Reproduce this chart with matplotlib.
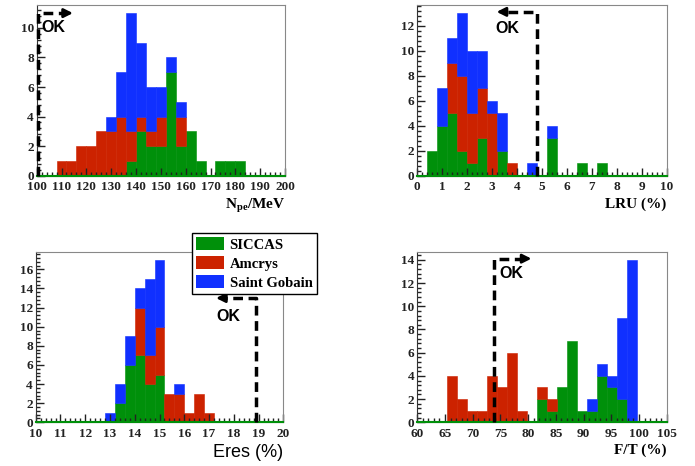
import numpy as np
import matplotlib
matplotlib.use('Agg')
import matplotlib.pyplot as plt
from matplotlib.patches import Patch
from matplotlib.ticker import MultipleLocator, AutoMinorLocator

# stacked histograms: SICCAS (bottom), Amcrys, Saint Gobain (top)
npe_edges = np.linspace(100, 200, 26)
npe_siccas = [0, 0, 0, 0, 0, 0, 0, 0, 0, 1, 3, 2, 2, 7, 2, 3, 1, 0, 1, 1, 1, 0, 0, 0, 0]
npe_amcrys = [0, 0, 1, 1, 2, 2, 3, 3, 4, 2, 1, 1, 2, 0, 2, 0, 0, 0, 0, 0, 0, 0, 0, 0, 0]
npe_gobain = [0, 0, 0, 0, 0, 0, 0, 1, 3, 8, 5, 3, 2, 1, 1, 0, 0, 0, 0, 0, 0, 0, 0, 0, 0]

lru_edges = np.linspace(0, 10, 26)
lru_siccas = [0, 2, 4, 5, 2, 1, 3, 0, 2, 0, 0, 0, 0, 3, 0, 0, 1, 0, 1, 0, 0, 0, 0, 0, 0]
lru_amcrys = [0, 0, 0, 4, 6, 4, 4, 5, 0, 1, 0, 0, 0, 0, 0, 0, 0, 0, 0, 0, 0, 0, 0, 0, 0]
lru_gobain = [0, 0, 3, 2, 5, 5, 3, 1, 3, 0, 0, 1, 0, 1, 0, 0, 0, 0, 0, 0, 0, 0, 0, 0, 0]

eres_edges = np.linspace(10, 20, 26)
eres_siccas = [0, 0, 0, 0, 0, 0, 0, 0, 2, 6, 7, 4, 5, 0, 0, 0, 0, 0, 0, 0, 0, 0, 0, 0, 0]
eres_amcrys = [0, 0, 0, 0, 0, 0, 0, 0, 0, 0, 5, 3, 5, 3, 3, 1, 3, 1, 0, 0, 0, 0, 0, 0, 0]
eres_gobain = [0, 0, 0, 0, 0, 0, 0, 1, 2, 3, 2, 8, 7, 0, 1, 0, 0, 0, 0, 0, 0, 0, 0, 0, 0]

ft_edges = np.linspace(60, 105, 26)
ft_siccas = [0, 0, 0, 0, 0, 0, 0, 0, 0, 0, 0, 0, 2, 1, 3, 7, 1, 1, 4, 3, 2, 0, 0, 0, 0]
ft_amcrys = [0, 0, 0, 4, 2, 1, 1, 4, 3, 6, 1, 0, 1, 1, 0, 0, 0, 0, 0, 0, 0, 0, 0, 0, 0]
ft_gobain = [0, 0, 0, 0, 0, 0, 0, 0, 0, 0, 0, 0, 0, 0, 0, 0, 0, 1, 1, 1, 7, 14, 0, 0, 0]

names = ['SICCAS', 'Amcrys', 'Saint Gobain']
colors = ['#00900a', '#cc2200', '#1030ff']

serif = 'Liberation Serif'
sans = 'Liberation Sans'
plt.rcParams['mathtext.fontset'] = 'custom'
plt.rcParams['mathtext.rm'] = 'Liberation Serif:bold'
plt.rcParams['mathtext.bf'] = 'Liberation Serif:bold'
plt.rcParams['mathtext.it'] = 'Liberation Serif:bold'

fig = plt.figure(figsize=(6.95, 4.66), dpi=100)


def panel(rect, edges, series, ymax, xmajor, xlabel, label_font, label_size):
    ax = fig.add_axes(rect)
    left = edges[:-1]
    width = np.diff(edges)
    bottom = np.zeros(len(left))
    for vals, c in zip(series, colors):
        vals = np.array(vals, dtype=float)
        m = vals > 0
        ax.bar(left[m], vals[m], width=width[m], bottom=bottom[m],
               align='edge', color=c, edgecolor=c, linewidth=0.4)
        bottom = bottom + vals
    ax.plot([edges[0], edges[-1]], [0, 0], color=colors[0], lw=1.5,
            clip_on=False, zorder=3)
    ax.set_xlim(edges[0], edges[-1])
    ax.set_ylim(0, ymax * 1.05)
    ax.xaxis.set_major_locator(MultipleLocator(xmajor))
    ax.xaxis.set_minor_locator(AutoMinorLocator(5))
    ax.yaxis.set_major_locator(MultipleLocator(2))
    ax.yaxis.set_minor_locator(AutoMinorLocator(5))
    ax.tick_params(which='both', direction='in', top=False, right=False,
                   labelsize=9.5, colors='#222222')
    ax.tick_params(axis='x', pad=4)
    ax.tick_params(axis='y', pad=2)
    ax.tick_params(which='major', length=6, width=1)
    ax.tick_params(which='minor', length=3, width=1)
    for lab in ax.get_xticklabels() + ax.get_yticklabels():
        lab.set_fontfamily(serif)
        lab.set_fontweight('bold')
    for s in ['top', 'right']:
        ax.spines[s].set_color('#888888')
    for s in ['left', 'bottom']:
        ax.spines[s].set_color('#333333')
    ax.set_xlabel(xlabel, fontfamily=label_font, fontsize=label_size,
                  fontweight='bold' if label_font == serif else 'normal',
                  loc='right', labelpad=3)
    return ax


def ok_arrow(ax, x, ytop, xend, tx, ty):
    direction = 1 if xend > x else -1
    head = 0.04 * (ax.get_xlim()[1] - ax.get_xlim()[0])
    ax.plot([x, x, xend - direction * head * 0.6], [0, ytop, ytop],
            color='black', lw=2.5, ls=(0, (2.8, 1.6)), clip_on=False, zorder=4)
    ax.annotate('', xy=(xend, ytop), xytext=(xend - direction * head, ytop),
                arrowprops=dict(arrowstyle='-|>', color='black', lw=2,
                                mutation_scale=13, shrinkA=0, shrinkB=0),
                annotation_clip=False, zorder=5)
    ax.text(tx, ty, 'OK', fontfamily=sans, fontweight='bold', fontsize=11.5,
            va='center', ha='left', zorder=5)


ax1 = panel([0.0528, 0.6230, 0.3573, 0.3663], npe_edges,
            [npe_siccas, npe_amcrys, npe_gobain], 11, 10,
            r'N$_{\mathrm{pe}}$/MeV', serif, 11)
ok_arrow(ax1, 100.4, 11.0, 114.6, 101.8, 10.05)

ax2 = panel([0.6004, 0.6230, 0.3589, 0.3663], lru_edges,
            [lru_siccas, lru_amcrys, lru_gobain], 13, 1,
            'LRU (%)', serif, 11)
ok_arrow(ax2, 4.8, 13.1, 3.18, 3.12, 11.8)

ax3 = panel([0.0514, 0.0938, 0.3563, 0.3661], eres_edges,
            [eres_siccas, eres_amcrys, eres_gobain], 17, 1,
            'Eres (%)', sans, 13)
ok_arrow(ax3, 18.9, 13.0, 17.28, 17.28, 11.1)

ax4 = panel([0.6004, 0.0938, 0.3589, 0.3661], ft_edges,
            [ft_siccas, ft_amcrys, ft_gobain], 14, 5,
            'F/T (%)', serif, 11)
ok_arrow(ax4, 73.84, 14.1, 80.6, 74.8, 12.8)

handles = [Patch(facecolor=c, edgecolor='none') for c in colors]
leg = fig.legend(handles, names, loc='upper left',
                 bbox_to_anchor=(0.2758, 0.5), ncol=1,
                 prop={'family': serif, 'weight': 'bold', 'size': 10.5},
                 frameon=True, fancybox=False, shadow=False,
                 edgecolor='black', framealpha=1,
                 handlelength=1.9, handleheight=1.0, labelspacing=0.3,
                 handletextpad=0.4, borderpad=0.3, borderaxespad=0)
leg.get_frame().set_linewidth(1.0)
leg.set_zorder(10)

fig.savefig('out.png', dpi=100)
